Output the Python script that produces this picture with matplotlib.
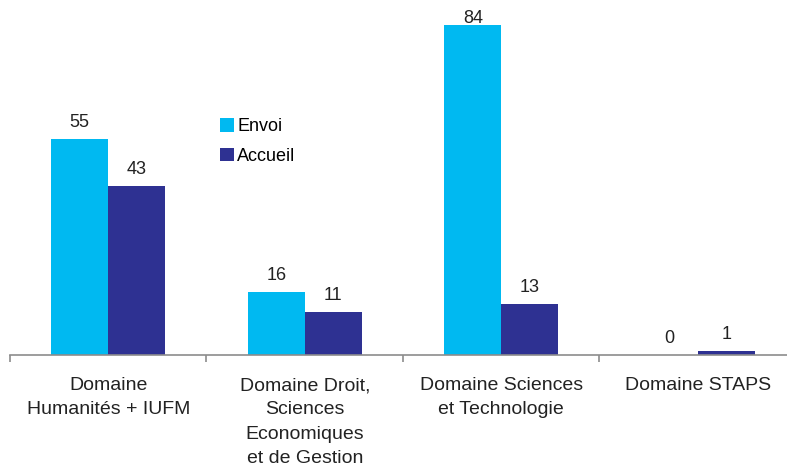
import matplotlib.pyplot as plt
import numpy as np

plt.rcParams['font.family'] = ['Liberation Sans', 'DejaVu Sans']

categories = ['Domaine\nHumanités + IUFM',
              'Domaine Droit,\nSciences\nEconomiques\net de Gestion',
              'Domaine Sciences\net Technologie',
              'Domaine STAPS']
envoi = [55, 16, 84, 0]
accueil = [43, 11, 13, 1]

W, H = 787, 466
fig = plt.figure(figsize=(W / 100, H / 100), dpi=100)
# axes: left at x=10, baseline at y=355, each category ~196 px wide
ax = fig.add_axes([10 / W, 1 - 355 / H, 786 / W, 354 / H])

x = np.arange(len(categories))
bw = 0.29
b1 = ax.bar(x - bw / 2, envoi, bw, color='#00B9F1', label='Envoi')
b2 = ax.bar(x + bw / 2, accueil, bw, color='#2E3192', label='Accueil')

for bars in (b1, b2):
    for r in bars:
        h = r.get_height()
        # the tallest label gets squeezed against the top of the chart
        dy = 5.5 if h < 80 else -1.5
        ax.annotate(f'{int(h)}', (r.get_x() + r.get_width() / 2, h),
                    xytext=(0, dy), textcoords='offset points', ha='center', va='bottom',
                    fontsize=13, color='#222222')

ax.set_xlim(-0.5, len(categories) - 0.5)
ax.set_ylim(0, 90)
ax.set_yticks([])
for s in ['top', 'right', 'left']:
    ax.spines[s].set_visible(False)
ax.spines['bottom'].set_color('#8c8c8c')
ax.spines['bottom'].set_linewidth(1.2)

ax.set_xticks(np.arange(len(categories) + 1) - 0.5)
ax.set_xticklabels([])
ax.tick_params(axis='x', length=5, color='#8c8c8c', width=1.2)
ax.set_xticks(x, minor=True)
ax.set_xticklabels(categories, minor=True, fontsize=14, color='#222222', linespacing=1.55)
ax.tick_params(axis='x', which='minor', length=0, pad=16)

ax.legend(loc='upper left', bbox_to_anchor=(203 / 786, 1 - 110 / 354), frameon=False,
          fontsize=13, handlelength=0.75, handleheight=0.75, handletextpad=0.2,
          labelspacing=0.7, borderaxespad=0)

fig.savefig('out.png', dpi=100)
